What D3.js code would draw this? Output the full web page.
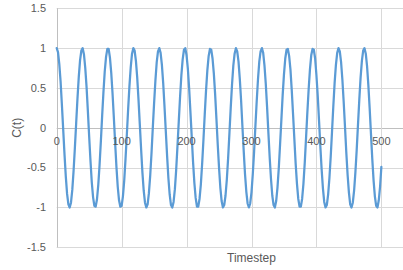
<!DOCTYPE html>
<html>
<head>
<meta charset="utf-8">
<script src="https://cdn.jsdelivr.net/npm/d3@7"></script>
<style>
  html, body { margin: 0; padding: 0; background: #ffffff; }
  svg { display: block; }
  text { font-family: "Liberation Sans", Arial, sans-serif; fill: #595959; }
</style>
</head>
<body>
<script>
// ---- data ----
const timestepStep = 2;
const timesteps = d3.range(0, 501, timestepStep);
const cValues = [
  1.00, 0.95, 0.80, 0.58, 0.29, -0.02, -0.33, -0.61, -0.83, -0.96,
  -1.00, -0.94, -0.78, -0.54, -0.25, 0.06, 0.37, 0.64, 0.85, 0.97,
  1.00, 0.92, 0.75, 0.51, 0.21, -0.11, -0.41, -0.68, -0.87, -0.98,
  -0.99, -0.90, -0.72, -0.47, -0.17, 0.15, 0.45, 0.71, 0.89, 0.99,
  0.99, 0.88, 0.69, 0.43, 0.13, -0.19, -0.49, -0.74, -0.91, -0.99,
  -0.98, -0.86, -0.66, -0.39, -0.09, 0.23, 0.52, 0.76, 0.93, 1.00,
  0.97, 0.84, 0.63, 0.35, 0.04, -0.27, -0.56, -0.79, -0.94, -1.00,
  -0.96, -0.82, -0.60, -0.32, 0.00, 0.31, 0.59, 0.82, 0.96, 1.00,
  0.94, 0.79, 0.56, 0.27, -0.04, -0.35, -0.63, -0.84, -0.97, -1.00,
  -0.93, -0.77, -0.53, -0.23, 0.08, 0.39, 0.66, 0.86, 0.98, 1.00,
  0.91, 0.74, 0.49, 0.19, -0.12, -0.43, -0.69, -0.88, -0.99, -0.99,
  -0.89, -0.71, -0.45, -0.15, 0.17, 0.47, 0.72, 0.90, 0.99, 0.98,
  0.87, 0.68, 0.42, 0.11, -0.21, -0.50, -0.75, -0.92, -1.00, -0.97,
  -0.85, -0.65, -0.38, -0.07, 0.25, 0.54, 0.78, 0.93, 1.00, 0.96,
  0.83, 0.61, 0.34, 0.02, -0.29, -0.58, -0.80, -0.95, -1.00, -0.95,
  -0.81, -0.58, -0.30, 0.02, 0.33, 0.61, 0.83, 0.96, 1.00, 0.94,
  0.78, 0.55, 0.26, -0.06, -0.37, -0.64, -0.85, -0.97, -1.00, -0.92,
  -0.75, -0.51, -0.21, 0.10, 0.41, 0.67, 0.87, 0.98, 0.99, 0.90,
  0.73, 0.47, 0.17, -0.14, -0.45, -0.70, -0.89, -0.99, -0.99, -0.89,
  -0.70, -0.44, -0.13, 0.19, 0.48, 0.73, 0.91, 0.99, 0.98, 0.87,
  0.66, 0.40, 0.09, -0.23, -0.52, -0.76, -0.93, -1.00, -0.97, -0.84,
  -0.63, -0.36, -0.05, 0.27, 0.56, 0.79, 0.94, 1.00, 0.96, 0.82,
  0.60, 0.32, 0.01, -0.31, -0.59, -0.81, -0.96, -1.00, -0.94, -0.79,
  -0.56, -0.28, 0.04, 0.35, 0.63, 0.84, 0.97, 1.00, 0.93, 0.77,
  0.53, 0.24, -0.08, -0.39, -0.66, -0.86, -0.98, -1.00, -0.91, -0.74,
  -0.49
];
const xTickLabels = [0, 100, 200, 300, 400, 500];
const xGridTicks = [100, 200, 300, 400, 500, 600];
const yTicks = [-1.5, -1, -0.5, 0, 0.5, 1, 1.5];
const xTitle = "Timestep";
const yTitle = "C(t)";

// ---- layout ----
const W = 403, H = 270;
const mLeft = 56.7, mRight = 446.3, mTop = 8.3, mBottom = 247.3;

const svg = d3.select("body").append("svg")
  .attr("width", W).attr("height", H);

const x = d3.scaleLinear().domain([0, 600]).range([mLeft, mRight]);
const y = d3.scaleLinear().domain([-1.5, 1.5]).range([mBottom, mTop]);

// gridlines
svg.append("g").selectAll("line").data(yTicks).join("line")
  .attr("x1", mLeft).attr("x2", mRight)
  .attr("y1", d => Math.round(y(d)) + 0.5).attr("y2", d => Math.round(y(d)) + 0.5)
  .attr("stroke", d => d === 0 ? "#bfbfbf" : "#d9d9d9").attr("stroke-width", 1);
svg.append("g").selectAll("line").data(xGridTicks).join("line")
  .attr("x1", d => Math.round(x(d)) + 0.5).attr("x2", d => Math.round(x(d)) + 0.5)
  .attr("y1", mTop).attr("y2", mBottom)
  .attr("stroke", "#d9d9d9").attr("stroke-width", 1);
// vertical axis line
svg.append("line")
  .attr("x1", Math.round(x(0)) + 0.5).attr("x2", Math.round(x(0)) + 0.5)
  .attr("y1", mTop).attr("y2", mBottom)
  .attr("stroke", "#bfbfbf").attr("stroke-width", 1);

// y tick labels
svg.append("g").selectAll("text").data(yTicks).join("text")
  .attr("x", 46).attr("y", d => y(d))
  .attr("dy", "0.35em")
  .attr("text-anchor", "end")
  .attr("font-size", 11)
  .text(d => String(d));

// line
const line = d3.line().x((d, i) => x(timesteps[i])).y(d => y(d));
svg.append("path").datum(cValues)
  .attr("d", line)
  .attr("fill", "none")
  .attr("stroke", "#5b9bd5")
  .attr("stroke-width", 2.25)
  .attr("stroke-linejoin", "round")
  .attr("stroke-linecap", "round");

// x tick labels (sit just under the zero line, above the series)
svg.append("g").selectAll("text").data(xTickLabels).join("text")
  .attr("x", d => x(d)).attr("y", y(0) + 13.5)
  .attr("dy", "0.35em")
  .attr("text-anchor", "middle")
  .attr("font-size", 11)
  .text(d => d);

// axis titles
svg.append("text")
  .attr("x", (mLeft + mRight) / 2).attr("y", 262)
  .attr("text-anchor", "middle").attr("font-size", 12)
  .text(xTitle);
svg.append("text")
  .attr("transform", `translate(21,${(mTop + mBottom) / 2}) rotate(-90)`)
  .attr("text-anchor", "middle").attr("font-size", 12)
  .text(yTitle);
</script>
</body>
</html>
